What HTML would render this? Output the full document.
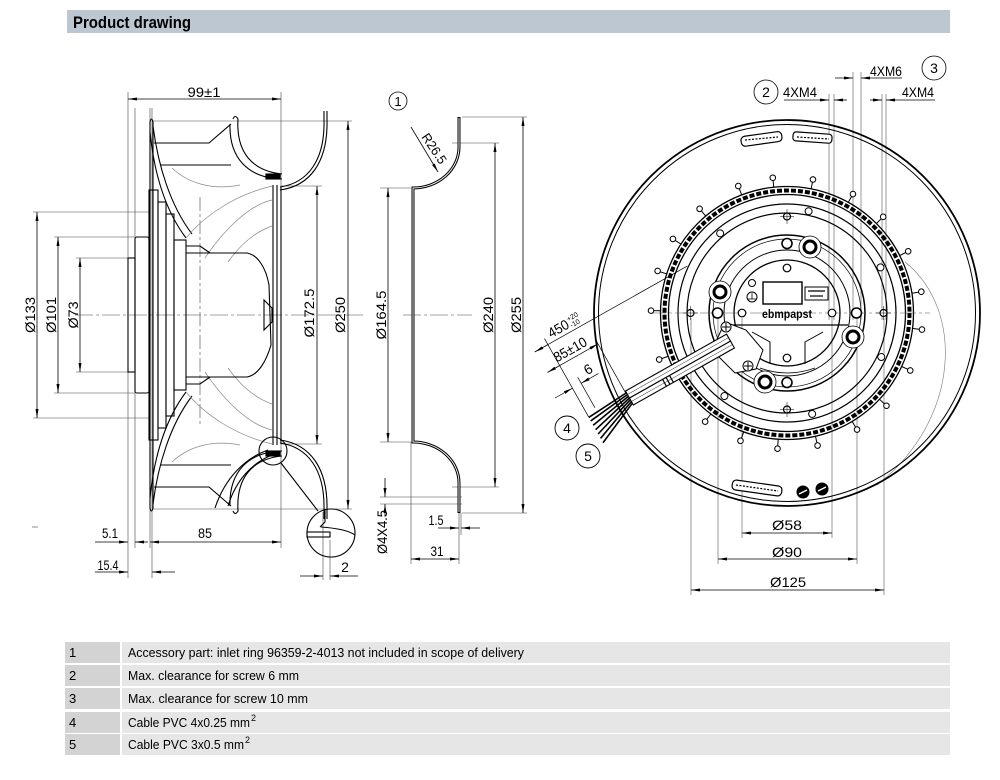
<!DOCTYPE html>
<html><head><meta charset="utf-8">
<style>
html,body{margin:0;padding:0;background:#fff;width:1000px;height:780px;overflow:hidden}
svg{display:block}
text{font-family:"Liberation Sans Narrow","Liberation Sans",Arial,sans-serif;fill:#000;stroke:none}
</style></head><body>
<svg width="1000" height="780" viewBox="0 0 1000 780" xmlns="http://www.w3.org/2000/svg">
<defs>
<marker id="ar" viewBox="0 0 9 3" refX="9" refY="1.5" markerWidth="9" markerHeight="3" markerUnits="userSpaceOnUse" orient="auto-start-reverse"><path d="M0,0L9,1.5L0,3Z" fill="#000"/></marker>
</defs>
<rect width="1000" height="780" fill="#fff"/>

<!-- Header -->
<rect x="67" y="10" width="883" height="23" fill="#bdc7d2"/>
<text x="73" y="28" font-size="17" font-weight="bold" textLength="118" lengthAdjust="spacingAndGlyphs">Product drawing</text>

<!-- ================= LEFT VIEW ================= -->
<g fill="none" stroke="#444" stroke-width="0.6">
  <line x1="128" y1="92" x2="128" y2="578"/>
  <line x1="135" y1="108" x2="135" y2="548"/>
  <line x1="150" y1="108" x2="150" y2="548"/>
  <line x1="152" y1="108" x2="152" y2="578"/>
  <line x1="281" y1="92" x2="281" y2="548"/>
  <line x1="152" y1="121" x2="352" y2="121"/>
  <line x1="152" y1="509" x2="352" y2="509"/>
  <line x1="281" y1="186" x2="322" y2="186"/>
  <line x1="281" y1="444" x2="322" y2="444"/>
  <line x1="33" y1="212" x2="150" y2="212"/>
  <line x1="33" y1="418" x2="150" y2="418"/>
  <line x1="54" y1="237" x2="135" y2="237"/>
  <line x1="54" y1="393" x2="135" y2="393"/>
  <line x1="76" y1="258" x2="128" y2="258"/>
  <line x1="76" y1="372" x2="128" y2="372"/>
  <line x1="323" y1="512" x2="323" y2="580"/>
  <line x1="330" y1="540" x2="330" y2="580"/>
  <line x1="75" y1="315" x2="365" y2="315" stroke-dasharray="18 3 3 3"/>
  <line x1="200" y1="197" x2="200" y2="425" stroke-dasharray="14 3 3 3"/>
  <line x1="32" y1="527" x2="38" y2="527"/>
</g>

<g id="lt" fill="none" stroke="#000" stroke-width="1.1">
  <path d="M150,315 L150,122 Q151.5,116 153,122 L153,315"/>
  <path d="M153,126 C158,165 170,205 192,234"/>
  <path d="M150,132 C154,172 165,210 186,238"/>
  <path d="M154,143 L209,143 L231,124"/>
  <path d="M160,165 L231,165"/>
  <path d="M233,119 Q235,114 238,119 C236,152 252,171 282,174"/>
  <path d="M230,124 C229,158 248,178 282,179"/>
  <rect x="266" y="174" width="14" height="5" fill="#000"/>
  <g stroke="#888" stroke-width="0.7">
    <path d="M186,238 C205,215 235,195 272,186"/>
    <path d="M205,258 C225,228 250,205 272,200"/>
    <path d="M172,168 C190,185 215,190 240,185"/>
    <path d="M228,262 C240,245 255,232 272,226"/>
  </g>
  <path d="M324,111 L324,120 C325,160 308,183 280,187"/>
  <path d="M327,111 L327,120 C328,162 310,186 280,190"/>
  <path d="M273,185 L273,315 M277,185 L277,315 M281,187 L281,315"/>
</g>
<use href="#lt" transform="matrix(1,0,0,-1,0,630)"/>

<g fill="none" stroke="#000" stroke-width="1.1">
  <rect x="128" y="258" width="7" height="114"/>
  <rect x="135" y="237" width="14" height="156" rx="2"/>
  <rect x="149" y="190" width="9" height="250"/>
  <rect x="158" y="202" width="8" height="226"/>
  <rect x="166" y="214" width="8" height="202"/>
  <rect x="174" y="240" width="12" height="150"/>
  <path d="M186,253 L247,253 C258,255 266,268 269,285 L271,345 C266,362 258,375 247,377 L186,377"/>
  <path d="M264,300 L272,308 L272,322 L264,330 Z"/>
  <path d="M186,246 L200,246 L210,253 M186,384 L200,384 L210,377"/>
  <path d="M215,508 C225,478 245,458 268,450"/>
  <path d="M228,506 C236,480 252,463 272,455"/>
  <circle cx="273" cy="451" r="14"/>
  <line x1="281" y1="463" x2="318" y2="511"/>
  <circle cx="331" cy="533" r="24"/>
  <path d="M325,509 L325,522 L320,527"/>
  <path d="M321,527 C335,528 348,530 355,535"/>
  <rect x="307" y="532" width="23" height="5"/>
</g>

<!-- left dims -->
<g stroke="#000" stroke-width="0.8" fill="none">
  <line x1="128" y1="99" x2="281" y2="99" marker-start="url(#ar)" marker-end="url(#ar)"/>
  <line x1="37" y1="212" x2="37" y2="418" marker-start="url(#ar)" marker-end="url(#ar)"/>
  <line x1="58" y1="237" x2="58" y2="393" marker-start="url(#ar)" marker-end="url(#ar)"/>
  <line x1="80" y1="258" x2="80" y2="372" marker-start="url(#ar)" marker-end="url(#ar)"/>
  <line x1="317" y1="186" x2="317" y2="444" marker-start="url(#ar)" marker-end="url(#ar)"/>
  <line x1="348" y1="121" x2="348" y2="509" marker-start="url(#ar)" marker-end="url(#ar)"/>
  <line x1="95" y1="542" x2="128" y2="542" marker-end="url(#ar)"/>
  <line x1="148" y1="542" x2="135" y2="542" marker-end="url(#ar)"/>
  <line x1="150" y1="542" x2="281" y2="542" marker-start="url(#ar)" marker-end="url(#ar)"/>
  <line x1="95" y1="572" x2="128" y2="572" marker-end="url(#ar)"/>
  <line x1="175" y1="572" x2="152" y2="572" marker-end="url(#ar)"/>
  <line x1="300" y1="576" x2="323" y2="576" marker-end="url(#ar)"/>
  <line x1="358" y1="576" x2="330" y2="576" marker-end="url(#ar)"/>
</g>
<g font-size="14">
  <text x="204" y="97" text-anchor="middle" textLength="33" lengthAdjust="spacingAndGlyphs">99±1</text>
  <text transform="translate(35,315) rotate(-90)" text-anchor="middle" textLength="36" lengthAdjust="spacingAndGlyphs">Ø133</text>
  <text transform="translate(56,315) rotate(-90)" text-anchor="middle" textLength="36" lengthAdjust="spacingAndGlyphs">Ø101</text>
  <text transform="translate(78,315) rotate(-90)" text-anchor="middle" textLength="27" lengthAdjust="spacingAndGlyphs">Ø73</text>
  <text transform="translate(314,313) rotate(-90)" text-anchor="middle" textLength="49" lengthAdjust="spacingAndGlyphs">Ø172.5</text>
  <text transform="translate(345,315) rotate(-90)" text-anchor="middle" textLength="36" lengthAdjust="spacingAndGlyphs">Ø250</text>
  <text x="110" y="538" text-anchor="middle" textLength="16" lengthAdjust="spacingAndGlyphs">5.1</text>
  <text x="205" y="538" text-anchor="middle" textLength="14" lengthAdjust="spacingAndGlyphs">85</text>
  <text x="108" y="570" text-anchor="middle" textLength="21" lengthAdjust="spacingAndGlyphs">15.4</text>
  <text x="345" y="572" text-anchor="middle">2</text>
</g>

<!-- ================= MIDDLE VIEW (inlet ring) ================= -->
<g fill="none" stroke="#444" stroke-width="0.6">
  <line x1="462" y1="117" x2="527" y2="117"/>
  <line x1="462" y1="513" x2="527" y2="513"/>
  <line x1="452" y1="143" x2="499" y2="143"/>
  <line x1="452" y1="487" x2="499" y2="487"/>
  <line x1="380" y1="188" x2="411" y2="188"/>
  <line x1="380" y1="442" x2="411" y2="442"/>
  <line x1="380" y1="497" x2="462" y2="497"/>
  <line x1="380" y1="504" x2="462" y2="504"/>
  <line x1="411" y1="442" x2="411" y2="564"/>
  <line x1="459" y1="513" x2="459" y2="564"/>
  <line x1="461" y1="513" x2="461" y2="535"/>
  <line x1="403" y1="315" x2="472" y2="315" stroke-dasharray="18 3 3 3"/>
</g>
<path d="M459,117 L459,147 A46,41 0 0 1 413,188 L413,442 A46,41 0 0 1 459,483 L459,513" fill="none" stroke="#000" stroke-width="3"/>
<path d="M459,118 L459,147 A46,41 0 0 1 413,188 L413,442 A46,41 0 0 1 459,483 L459,512" fill="none" stroke="#fff" stroke-width="0.9"/>
<g stroke="#000" stroke-width="0.8" fill="none">
  <line x1="388" y1="188" x2="388" y2="442" marker-start="url(#ar)" marker-end="url(#ar)"/>
  <line x1="495" y1="143" x2="495" y2="487" marker-start="url(#ar)" marker-end="url(#ar)"/>
  <line x1="523" y1="117" x2="523" y2="513" marker-start="url(#ar)" marker-end="url(#ar)"/>
  <line x1="385" y1="478" x2="385" y2="497" marker-end="url(#ar)"/>
  <line x1="385" y1="516" x2="385" y2="504" marker-end="url(#ar)"/>
  <line x1="438" y1="528" x2="459" y2="528" marker-end="url(#ar)"/>
  <line x1="480" y1="528" x2="461" y2="528" marker-end="url(#ar)"/>
  <line x1="411" y1="559" x2="459" y2="559" marker-start="url(#ar)" marker-end="url(#ar)"/>
  <line x1="411" y1="127" x2="438" y2="172" marker-end="url(#ar)"/>
  <circle cx="398" cy="101" r="9"/>
</g>
<g font-size="14">
  <text x="398" y="106" text-anchor="middle" font-size="13">1</text>
  <text transform="translate(386,315) rotate(-90)" text-anchor="middle" textLength="49" lengthAdjust="spacingAndGlyphs">Ø164.5</text>
  <text transform="translate(493,315) rotate(-90)" text-anchor="middle" textLength="36" lengthAdjust="spacingAndGlyphs">Ø240</text>
  <text transform="translate(521,315) rotate(-90)" text-anchor="middle" textLength="36" lengthAdjust="spacingAndGlyphs">Ø255</text>
  <text transform="translate(387,532) rotate(-90)" text-anchor="middle" textLength="44" lengthAdjust="spacingAndGlyphs">Ø4X4.5</text>
  <text transform="translate(421,137) rotate(56)" font-size="13" textLength="34" lengthAdjust="spacingAndGlyphs">R26.5</text>
  <text x="436" y="525" text-anchor="middle" textLength="15" lengthAdjust="spacingAndGlyphs">1.5</text>
  <text x="437" y="556" text-anchor="middle" textLength="13" lengthAdjust="spacingAndGlyphs">31</text>
</g>

<!-- ================= RIGHT VIEW (front) ================= -->
<g fill="none" stroke="#555" stroke-width="0.6">
  <line x1="829" y1="94" x2="829" y2="320"/>
  <line x1="834" y1="94" x2="834" y2="320"/>
  <line x1="853" y1="72" x2="853" y2="320"/>
  <line x1="861" y1="72" x2="861" y2="320"/>
  <line x1="882" y1="94" x2="882" y2="320"/>
  <line x1="886" y1="94" x2="886" y2="320"/>
  <line x1="742" y1="318" x2="742" y2="538"/>
  <line x1="832" y1="318" x2="832" y2="538"/>
  <line x1="718" y1="318" x2="718" y2="564"/>
  <line x1="857" y1="318" x2="857" y2="564"/>
  <line x1="691" y1="318" x2="691" y2="595"/>
  <line x1="884" y1="318" x2="884" y2="595"/>
  <path d="M905,262 C965,310 960,420 877,485" stroke="#777"/>
</g>

<g fill="none" stroke="#000">
  <circle cx="787" cy="313" r="193" stroke-width="1.8"/>
  <circle cx="787" cy="313" r="188.5" stroke-width="1"/>
  <circle cx="787" cy="313" r="126.5" stroke-width="1.3"/>
  <circle cx="787" cy="313" r="118.5" stroke-width="1.3"/>
  <circle cx="787" cy="313" r="122.5" stroke-width="4" stroke-dasharray="5 2"/>
  <circle cx="787" cy="313" r="109" stroke-width="1.2"/>
  <circle cx="787" cy="313" r="100" stroke-width="1.2"/>
  <circle cx="787" cy="313" r="78" stroke-width="1.5"/>
  <circle cx="787" cy="313" r="74" stroke-width="0.7"/>
  <circle cx="787" cy="313" r="63" stroke-width="1"/>
  <circle cx="787" cy="313" r="53" stroke-width="1.3"/>
  <line x1="650" y1="313" x2="930" y2="313" stroke="#555" stroke-width="0.5" stroke-dasharray="16 3 3 3"/>
</g>

<!-- pins -->
<g fill="#fff" stroke="#000" stroke-width="1">
  <g transform="rotate(-21 787 313)"><line x1="787" y1="187" x2="787" y2="180"/><circle cx="787" cy="177" r="2.8"/></g>
  <g transform="rotate(-6 787 313)"><line x1="787" y1="187" x2="787" y2="180"/><circle cx="787" cy="177" r="2.8"/></g>
  <g transform="rotate(11 787 313)"><line x1="787" y1="187" x2="787" y2="180"/><circle cx="787" cy="177" r="2.8"/></g>
  <g transform="rotate(29 787 313)"><line x1="787" y1="187" x2="787" y2="180"/><circle cx="787" cy="177" r="2.8"/></g>
  <g transform="rotate(45 787 313)"><line x1="787" y1="187" x2="787" y2="180"/><circle cx="787" cy="177" r="2.8"/></g>
  <g transform="rotate(63 787 313)"><line x1="787" y1="187" x2="787" y2="180"/><circle cx="787" cy="177" r="2.8"/></g>
  <g transform="rotate(81 787 313)"><line x1="787" y1="187" x2="787" y2="180"/><circle cx="787" cy="177" r="2.8"/></g>
  <g transform="rotate(97 787 313)"><line x1="787" y1="187" x2="787" y2="180"/><circle cx="787" cy="177" r="2.8"/></g>
  <g transform="rotate(115 787 313)"><line x1="787" y1="187" x2="787" y2="180"/><circle cx="787" cy="177" r="2.8"/></g>
  <g transform="rotate(133 787 313)"><line x1="787" y1="187" x2="787" y2="180"/><circle cx="787" cy="177" r="2.8"/></g>
  <g transform="rotate(149 787 313)"><line x1="787" y1="187" x2="787" y2="180"/><circle cx="787" cy="177" r="2.8"/></g>
  <g transform="rotate(167 787 313)"><line x1="787" y1="187" x2="787" y2="180"/><circle cx="787" cy="177" r="2.8"/></g>
  <g transform="rotate(184 787 313)"><line x1="787" y1="187" x2="787" y2="180"/><circle cx="787" cy="177" r="2.8"/></g>
  <g transform="rotate(200 787 313)"><line x1="787" y1="187" x2="787" y2="180"/><circle cx="787" cy="177" r="2.8"/></g>
  <g transform="rotate(217 787 313)"><line x1="787" y1="187" x2="787" y2="180"/><circle cx="787" cy="177" r="2.8"/></g>
  <g transform="rotate(250 787 313)"><line x1="787" y1="187" x2="787" y2="180"/><circle cx="787" cy="177" r="2.8"/></g>
  <g transform="rotate(271 787 313)"><line x1="787" y1="187" x2="787" y2="180"/><circle cx="787" cy="177" r="2.8"/></g>
  <g transform="rotate(288 787 313)"><line x1="787" y1="187" x2="787" y2="180"/><circle cx="787" cy="177" r="2.8"/></g>
  <g transform="rotate(303 787 313)"><line x1="787" y1="187" x2="787" y2="180"/><circle cx="787" cy="177" r="2.8"/></g>
  <g transform="rotate(320 787 313)"><line x1="787" y1="187" x2="787" y2="180"/><circle cx="787" cy="177" r="2.8"/></g>
  <!-- small circles on ring -->
  <g transform="rotate(-40 787 313)"><circle cx="787" cy="209" r="3.5"/></g>
  <g transform="rotate(12 787 313)"><circle cx="787" cy="209" r="3.5"/></g>
  <g transform="rotate(64 787 313)"><circle cx="787" cy="209" r="3.5"/></g>
  <g transform="rotate(115 787 313)"><circle cx="787" cy="209" r="3.5"/></g>
  <g transform="rotate(166 787 313)"><circle cx="787" cy="209" r="3.5"/></g>
  <g transform="rotate(217 787 313)"><circle cx="787" cy="209" r="3.5"/></g>
</g>

<!-- holes -->
<g fill="#fff" stroke="#000">
  <g stroke-width="1.2">
    <circle cx="787" cy="216.5" r="3.5"/><circle cx="883.5" cy="313" r="3.5"/><circle cx="787" cy="409.5" r="3.5"/><circle cx="690.5" cy="313" r="3.5"/>
    <circle cx="787" cy="268" r="3.8"/><circle cx="832" cy="313" r="3.8"/><circle cx="787" cy="358" r="3.8"/><circle cx="742" cy="313" r="3.8"/>
  </g>
  <g stroke-width="1.6">
    <circle cx="787" cy="243.5" r="5"/><circle cx="856.5" cy="313" r="5"/><circle cx="787" cy="382.5" r="5"/><circle cx="717.5" cy="313" r="5"/>
  </g>
  <g stroke-width="0.5" fill="none">
    <path d="M780,216.5 H794 M787,209 V224 M876,313 H891 M883.5,306 V320 M780,409.5 H794 M787,402 V417 M683,313 H698 M690.5,306 V320"/>
  </g>
  <!-- bosses -->
  <g>
    <circle cx="720" cy="292" r="11" stroke-width="0.8"/><circle cx="720" cy="292" r="6" stroke-width="3"/>
    <circle cx="810" cy="247" r="11" stroke-width="0.8"/><circle cx="810" cy="247" r="6" stroke-width="3"/>
    <circle cx="853" cy="337" r="11" stroke-width="0.8"/><circle cx="853" cy="337" r="6" stroke-width="3"/>
    <circle cx="765" cy="382" r="11" stroke-width="0.8"/><circle cx="765" cy="382" r="6" stroke-width="3"/>
  </g>
</g>

<!-- hub interior -->
<g fill="none" stroke="#000">
  <rect x="763" y="282" width="39" height="22" stroke-width="1.4"/>
  <rect x="805" y="287" width="23" height="13" stroke-width="1"/>
  <line x1="808" y1="291" x2="825" y2="291" stroke-width="1.2"/>
  <line x1="810" y1="296" x2="823" y2="296" stroke-width="1.2"/>
  <circle cx="752" cy="283" r="3.5" stroke-width="1"/>
  <circle cx="752" cy="297" r="5" stroke-width="1"/>
  <path d="M752,293 V299 M748,299 H756" stroke-width="0.8"/>
  <line x1="723" y1="325" x2="848" y2="325" stroke-width="1.3"/>
  <path d="M752,332 L770,342 L770,364" stroke-width="1"/>
  <path d="M823,332 L805,342 L805,364" stroke-width="1"/>
  <path d="M760,368 Q787,378 815,368" stroke-width="0.8"/>
</g>
<text x="787" y="318" text-anchor="middle" font-size="12" font-weight="bold" textLength="50" lengthAdjust="spacingAndGlyphs" style="font-family:'Liberation Sans',sans-serif">ebmpapst</text>

<!-- labels on rotor -->
<g fill="#fff" stroke="#000" stroke-width="1.2">
  <rect x="741" y="134" width="41" height="10" rx="4" transform="rotate(-8 761 139)"/>
  <rect x="793" y="133" width="39" height="9" rx="3" transform="rotate(4 812 137)"/>
  <rect x="732" y="483" width="50" height="10" rx="4" transform="rotate(8 757 488)"/>
</g>
<g stroke="#000" stroke-width="1.2" stroke-dasharray="2 1.5" fill="none">
  <line x1="745" y1="140" x2="778" y2="137" />
  <line x1="797" y1="137" x2="829" y2="139"/>
  <line x1="736" y1="485" x2="778" y2="491"/>
</g>
<circle cx="803" cy="492" r="6.5" fill="#000"/>
<circle cx="822" cy="489" r="6.5" fill="#000"/>
<path d="M799,494 L807,490 M818,491 L826,487" stroke="#fff" stroke-width="1.5"/>

<!-- cable gland + screws -->
<path d="M725,322 L746,330 L763,350 L756,369 L735,373 L712,350 Z" fill="#fff" stroke="#000" stroke-width="1"/>
<g fill="#fff" stroke="#000" stroke-width="1">
  <circle cx="726" cy="327" r="5"/><path d="M722,327 H730 M726,323 V331"/>
  <circle cx="748" cy="366" r="5"/><path d="M744,366 H752 M748,362 V370"/>
</g>

<!-- cable -->
<g transform="translate(727,343) rotate(150.6)" fill="#fff" stroke="#000">
  <rect x="-4" y="-8" width="116" height="8" stroke-width="1.1"/>
  <rect x="-4" y="0" width="116" height="8" stroke-width="1.1"/>
  <line x1="-4" y1="-4" x2="112" y2="-4" stroke-width="0.4"/>
  <line x1="-4" y1="4" x2="112" y2="4" stroke-width="0.4"/>
  <path d="M66,-8 V0 M70,-8 V0 M74,-8 V0" stroke-width="1.2"/>
  <g stroke-width="1.6" fill="none">
    <path d="M112,-6 L157,-26"/>
    <path d="M112,-4 L157,-21"/>
    <path d="M112,-2 L157,-16"/>
    <path d="M112,0 L157,-11"/>
    <path d="M112,2 L157,-6"/>
    <path d="M112,4 L157,-1"/>
    <path d="M112,6 L157,3"/>
  </g>
</g>

<!-- cable dims -->
<g transform="translate(596,430) rotate(-29.4)">
  <g stroke="#000" stroke-width="0.7" fill="none">
    <line x1="0" y1="-15" x2="0" y2="-105"/>
    <line x1="10" y1="-20" x2="10" y2="-55"/>
    <line x1="44" y1="-18" x2="44" y2="-80"/>
    <line x1="-20" y1="-48" x2="0" y2="-48" marker-end="url(#ar)"/>
    <line x1="30" y1="-48" x2="10" y2="-48" marker-end="url(#ar)"/>
    <line x1="-14" y1="-74" x2="44" y2="-74" marker-end="url(#ar)"/>
    <line x1="-14" y1="-74" x2="0" y2="-74" marker-start="url(#ar)"/>
    <line x1="-15" y1="-98" x2="160" y2="-98"/>
    <line x1="-15" y1="-98" x2="0" y2="-98" marker-start="url(#ar)"/>
  </g>
  <g font-size="14">
    <text x="23" y="-52" text-anchor="middle">6</text>
    <text x="17" y="-78" text-anchor="middle" textLength="36" lengthAdjust="spacingAndGlyphs">85±10</text>
    <text x="6" y="-102" textLength="22" lengthAdjust="spacingAndGlyphs">450</text>
    <text x="29" y="-108" font-size="7">+20</text>
    <text x="29" y="-101" font-size="7">-10</text>
  </g>
</g>
<g fill="#fff" stroke="#000" stroke-width="0.9">
  <circle cx="567" cy="428" r="12"/>
  <circle cx="588" cy="456" r="12"/>
</g>
<g font-size="14" text-anchor="middle">
  <text x="567" y="433">4</text>
  <text x="588" y="461">5</text>
</g>

<!-- top callouts -->
<g stroke="#000" stroke-width="0.8" fill="none">
  <line x1="784" y1="100" x2="829" y2="100" marker-end="url(#ar)"/>
  <line x1="847" y1="100" x2="834" y2="100" marker-end="url(#ar)"/>
  <line x1="835" y1="78" x2="853" y2="78" marker-end="url(#ar)"/>
  <line x1="902" y1="78" x2="861" y2="78" marker-end="url(#ar)"/>
  <line x1="870" y1="100" x2="882" y2="100" marker-end="url(#ar)"/>
  <line x1="935" y1="100" x2="886" y2="100" marker-end="url(#ar)"/>
  <circle cx="766" cy="92" r="12"/>
  <circle cx="934" cy="68" r="12"/>
  <line x1="742" y1="533" x2="832" y2="533" marker-start="url(#ar)" marker-end="url(#ar)"/>
  <line x1="718" y1="559" x2="857" y2="559" marker-start="url(#ar)" marker-end="url(#ar)"/>
  <line x1="691" y1="590" x2="884" y2="590" marker-start="url(#ar)" marker-end="url(#ar)"/>
</g>
<g font-size="14">
  <text x="766" y="97" text-anchor="middle">2</text>
  <text x="934" y="73" text-anchor="middle">3</text>
  <text x="783" y="97" textLength="34" lengthAdjust="spacingAndGlyphs">4XM4</text>
  <text x="870" y="76" textLength="32" lengthAdjust="spacingAndGlyphs">4XM6</text>
  <text x="902" y="97" textLength="32" lengthAdjust="spacingAndGlyphs">4XM4</text>
  <text x="787" y="530" text-anchor="middle" textLength="30" lengthAdjust="spacingAndGlyphs">Ø58</text>
  <text x="787" y="557" text-anchor="middle" textLength="30" lengthAdjust="spacingAndGlyphs">Ø90</text>
  <text x="788" y="587" text-anchor="middle" textLength="36" lengthAdjust="spacingAndGlyphs">Ø125</text>
</g>

<!-- ================= TABLE ================= -->
<g>
  <rect x="65" y="642" width="55" height="21" fill="#d3d3d3"/><rect x="122" y="642" width="828" height="21" fill="#e6e6e6"/>
  <rect x="65" y="665" width="55" height="21" fill="#d3d3d3"/><rect x="122" y="665" width="828" height="21" fill="#e6e6e6"/>
  <rect x="65" y="688" width="55" height="21" fill="#d3d3d3"/><rect x="122" y="688" width="828" height="21" fill="#e6e6e6"/>
  <rect x="65" y="712" width="55" height="21" fill="#d3d3d3"/><rect x="122" y="712" width="828" height="21" fill="#e6e6e6"/>
  <rect x="65" y="734" width="55" height="21" fill="#d3d3d3"/><rect x="122" y="734" width="828" height="21" fill="#e6e6e6"/>
</g>
<g font-size="13">
  <text x="69" y="657">1</text>
  <text x="128" y="657" textLength="396" lengthAdjust="spacingAndGlyphs">Accessory part: inlet ring 96359-2-4013 not included in scope of delivery</text>
  <text x="69" y="680">2</text>
  <text x="128" y="680" textLength="171" lengthAdjust="spacingAndGlyphs">Max. clearance for screw 6 mm</text>
  <text x="69" y="703">3</text>
  <text x="128" y="703" textLength="180" lengthAdjust="spacingAndGlyphs">Max. clearance for screw 10 mm</text>
  <text x="69" y="727">4</text>
  <text x="128" y="727" textLength="122" lengthAdjust="spacingAndGlyphs">Cable PVC 4x0.25 mm</text>
  <text x="251" y="721" font-size="9">2</text>
  <text x="69" y="749">5</text>
  <text x="128" y="749" textLength="116" lengthAdjust="spacingAndGlyphs">Cable PVC 3x0.5 mm</text>
  <text x="245" y="743" font-size="9">2</text>
</g>
</svg>
</body></html>
